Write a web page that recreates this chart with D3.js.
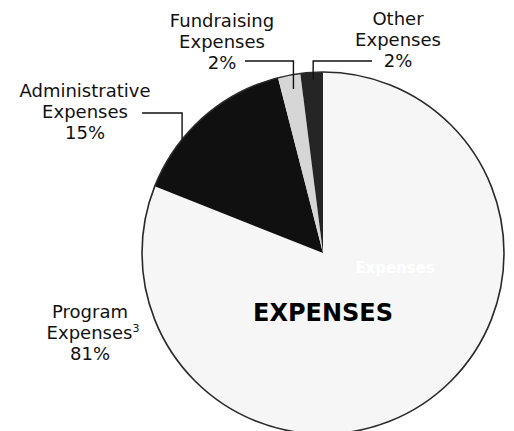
<!DOCTYPE html>
<html>
<head>
<meta charset="utf-8">
<script src="https://cdn.jsdelivr.net/npm/d3@7"></script>
<style>
  html, body { margin: 0; padding: 0; background: #fff; }
  svg { display: block; }
  text { font-family: "DejaVu Sans", sans-serif; fill: #111; }
</style>
</head>
<body>
<svg id="chart" width="514" height="431"></svg>
<script>
// ---- data ----
const categories = ["Program Expenses", "Administrative Expenses", "Fundraising Expenses", "Other Expenses"];
const values = [81, 15, 2, 2];
const labelLines = [
  ["Program", "Expenses", "81%"],
  ["Administrative", "Expenses", "15%"],
  ["Fundraising", "Expenses", "2%"],
  ["Other", "Expenses", "2%"]
];
const colors = ["#f6f6f6", "#101010", "#d6d6d6", "#252525"];
const centerTitle = "EXPENSES";

// ---- layout ----
const W = 514, H = 431;
const cx = 323, cy = 253, R = 181;
const svg = d3.select("#chart");

const pie = d3.pie().sort(null).value(d => d)(values);
const arc = d3.arc().innerRadius(0).outerRadius(R);

const g = svg.append("g").attr("transform", `translate(${cx},${cy})`);

g.selectAll("path.slice")
  .data(pie)
  .enter().append("path")
  .attr("class", "slice")
  .attr("d", arc)
  .attr("fill", (d, i) => colors[i])
  .attr("stroke", "none");

// outline
g.append("circle").attr("r", R).attr("fill", "none")
  .attr("stroke", "#2a2a2a").attr("stroke-width", 1.6);

// faint watermark text
g.append("text").attr("x", 72).attr("y", 20).attr("text-anchor", "middle")
  .style("fill", "#ffffff")
  .style("font-weight", "bold").style("font-size", "15px")
  .text("Expenses");

// center title
g.append("text").attr("x", 0).attr("y", 68).attr("text-anchor", "middle")
  .style("font-weight", "bold").style("font-size", "24px").style("fill", "#000")
  .text(centerTitle);

// labels: anchor position (center x, first baseline) & leader settings
const labelPos = [
  {x: 90, y: 318, leader: null},
  {x: 85, y: 97, leader: {frac: 0.32, rf: 1.0, lineY: 113, x0: 142}},
  {x: 222, y: 27, leader: {frac: 0.58, rf: 0.92, lineY: 61, x0: 245}},
  {x: 398, y: 25, leader: {frac: 0.55, rf: 0.96, lineY: 61, x0: 372}}
];
const lineH = 21;

labelLines.forEach((lines, i) => {
  const p = labelPos[i];
  const t = svg.append("text").attr("text-anchor", "middle").style("font-size", "18px");
  lines.forEach((ln, j) => {
    const ts = t.append("tspan").attr("x", p.x).attr("y", p.y + j * lineH).text(ln);
    if (i === 0 && j === 1) {
      t.append("tspan").style("font-size", "11px").attr("dy", -7).text("3");
      ts.attr("dx", 3);
    }
  });
  if (p.leader) {
    const d = pie[i];
    const a = d.startAngle + (d.endAngle - d.startAngle) * p.leader.frac;
    const r = R * p.leader.rf;
    const ex = cx + r * Math.sin(a), ey = cy - r * Math.cos(a);
    svg.append("path")
      .attr("d", d3.line()([[p.leader.x0, p.leader.lineY], [ex, p.leader.lineY], [ex, ey]]))
      .attr("fill", "none").attr("stroke", "#111").attr("stroke-width", 1.4);
  }
});
</script>
</body>
</html>
